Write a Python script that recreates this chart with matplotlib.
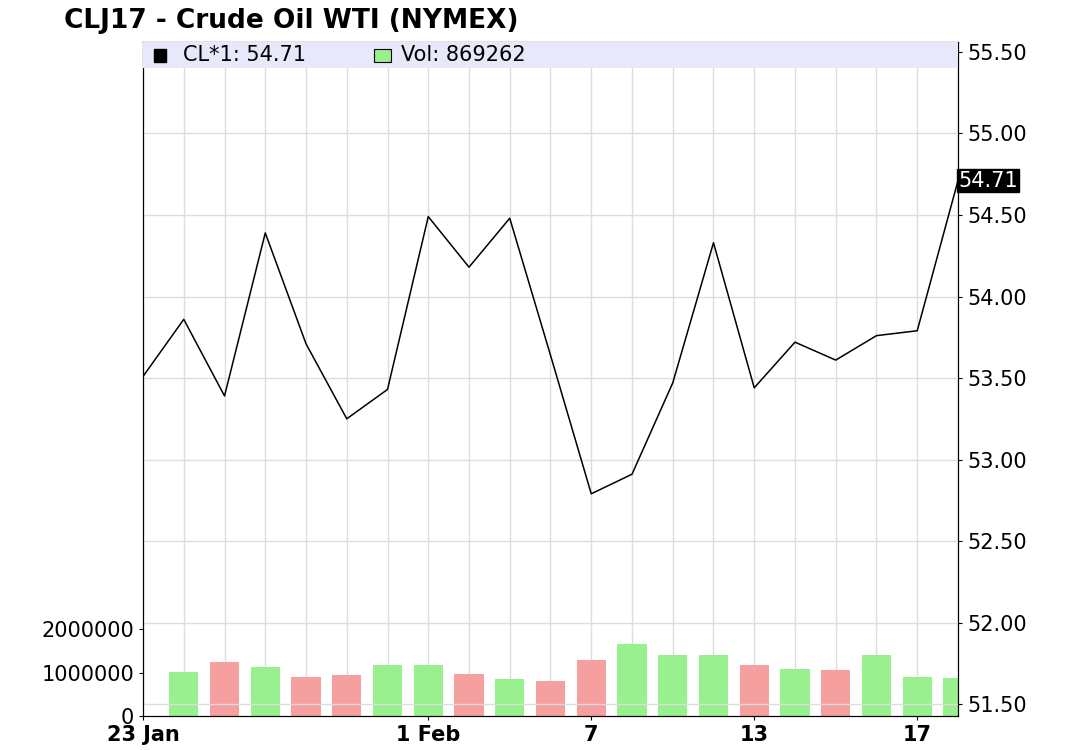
import matplotlib
matplotlib.use("Agg")
import matplotlib.pyplot as plt
from matplotlib.patches import Rectangle

prices = [53.51, 53.86, 53.39, 54.39, 53.71, 53.25, 53.43, 54.49, 54.18, 54.48, 53.64,
          52.79, 52.91, 53.47, 54.33, 53.44, 53.72, 53.61, 53.76, 53.79, 54.71]
volumes = [None, 1010000, 1240000, 1130000, 900000, 940000, 1170000, 1170000, 970000, 850000,
           800000, 1290000, 1660000, 1400000, 1400000, 1170000, 1080000, 1060000, 1400000,
           900000, 869262]
tick_idx = [0, 7, 11, 15, 19]
tick_labels = ["23 Jan", "1 Feb", "7", "13", "17"]
price_ticks = [51.5, 52.0, 52.5, 53.0, 53.5, 54.0, 54.5, 55.0, 55.5]
vol_ticks = [0, 1000000, 2000000]

fig = plt.figure(figsize=(10.65, 7.5), dpi=100)
ax = fig.add_axes([0.1343, 0.0453, 0.7652, 0.8987])
x = list(range(len(prices)))
ax.set_xlim(0, 20)
ax.set_ylim(51.427, 55.561)

ax2 = ax.twinx()
ax2.set_ylim(0, 15.5e6)
for i in range(1, len(prices)):
    c = "#99f08f" if prices[i] >= prices[i - 1] else "#f5a09e"
    ax2.bar(i, volumes[i], width=0.72, color=c, zorder=1)
ax2.set_xlim(0, 20)
ax2.yaxis.tick_left()
ax2.set_yticks(vol_ticks)
ax2.set_yticklabels([str(v) for v in vol_ticks], fontsize=15)
for i in x:
    ax2.axvline(i, color="#dddddd", lw=1, zorder=0)

ax.set_zorder(ax2.get_zorder() + 1)
ax.patch.set_visible(False)
for p in price_ticks:
    ax.axhline(p, color="#dddddd", lw=1, zorder=0)
ax.plot(x, prices, color="black", lw=1.1, zorder=5)
ax.yaxis.tick_right()
ax.set_yticks(price_ticks)
ax.set_yticklabels([f"{p:.2f}" for p in price_ticks], fontsize=15)
ax.set_xticks(tick_idx)
ax.set_xticklabels(tick_labels, fontsize=15, fontweight="bold")
ax.tick_params(length=3)
ax2.tick_params(length=3)

ax.text(1.0, prices[-1], f"{prices[-1]:.2f}", transform=ax.get_yaxis_transform(),
        color="white", fontsize=15, va="center", ha="left",
        bbox=dict(facecolor="black", edgecolor="black", pad=1))

ax.add_patch(Rectangle((0, 0.961), 1, 0.039, transform=ax.transAxes,
                       facecolor="#e8e8fb", edgecolor="none", zorder=3))
ax.add_patch(Rectangle((0.014, 0.970), 0.014, 0.020, transform=ax.transAxes,
                       facecolor="black", edgecolor="black", zorder=4))
ax.text(0.049, 0.980, f"CL*1: {prices[-1]:.2f}", transform=ax.transAxes, fontsize=15,
        va="center", zorder=4)
ax.add_patch(Rectangle((0.284, 0.970), 0.02, 0.020, transform=ax.transAxes,
                       facecolor="#99f08f", edgecolor="black", lw=0.8, zorder=4))
ax.text(0.317, 0.980, f"Vol: {volumes[-1]}", transform=ax.transAxes, fontsize=15,
        va="center", zorder=4)

fig.text(0.06, 0.972, "CLJ17 - Crude Oil WTI (NYMEX)", fontsize=19, fontweight="bold",
         va="center")
fig.savefig("out.png", dpi=100)
